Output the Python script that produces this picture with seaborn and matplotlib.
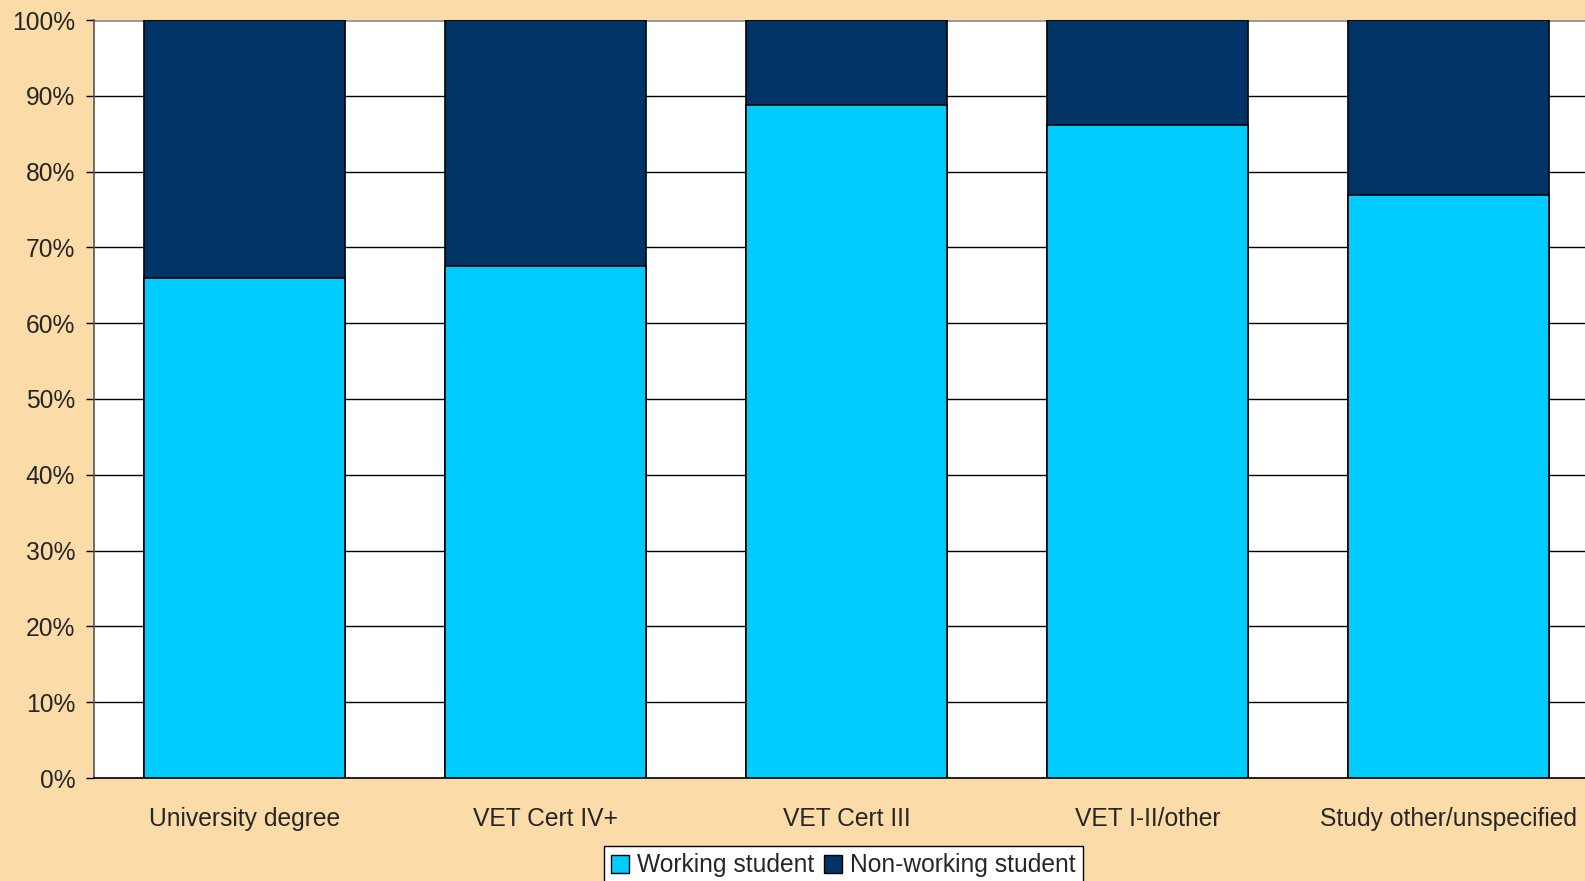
import pandas as pd
import seaborn as sns
import matplotlib
matplotlib.use('Agg')
import matplotlib.pyplot as plt
from matplotlib.patches import Patch
from matplotlib.ticker import FixedLocator, PercentFormatter

# Kategoriler ve yüzdeler
categories = ["University degree", "VET Cert IV+", "VET Cert III", "VET I-II/other", "Study other/unspecified"]
working = [65.9, 67.6, 88.8, 86.1, 76.9]
non_working = [100 - w for w in working]
series_names = ["Working student", "Non-working student"]

cyan = "#00CCFF"
navy = "#003366"
bg = "#FBDBA8"

df = pd.DataFrame({"kategori": categories, "working": working, "non_working": non_working})
df["toplam"] = df["working"] + df["non_working"]

sns.set_style("white")
plt.rcParams['font.family'] = ['Liberation Sans', 'DejaVu Sans']

fig = plt.figure(figsize=(15.85, 8.81), dpi=100, facecolor=bg)
ax = fig.add_axes([94 / 1585, 103 / 881, 1505 / 1585, 758 / 881])
ax.set_facecolor("white")

# Yığılmış çubuklar: önce toplam (lacivert), üstüne çalışan (camgöbeği)
sns.barplot(data=df, x="kategori", y="toplam", color=navy, width=0.67,
            edgecolor="black", linewidth=1.2, saturation=1, ax=ax, zorder=3)
sns.barplot(data=df, x="kategori", y="working", color=cyan, width=0.67,
            edgecolor="black", linewidth=1.2, saturation=1, ax=ax, zorder=3)

ax.set_xlim(-0.5, len(categories) - 0.5)
ax.set_ylim(0, 100)
ax.set_xlabel("")
ax.set_ylabel("")

ax.yaxis.set_major_locator(FixedLocator(range(0, 101, 10)))
ax.yaxis.set_major_formatter(PercentFormatter(decimals=0))
ax.grid(axis="y", color="black", linewidth=1, zorder=0)
ax.set_axisbelow(True)

ax.xaxis.set_minor_locator(FixedLocator([i - 0.5 for i in range(len(categories) + 1)]))
ax.tick_params(axis="x", which="major", length=0, pad=21, labelsize=17.7)
ax.tick_params(axis="x", which="minor", length=6, width=1, color="black", direction="out")
ax.tick_params(axis="y", length=6, width=1, color="black", direction="out", left=True,
               pad=7.5, labelsize=17.7)

for side in ["top", "right"]:
    ax.spines[side].set_visible(False)
ax.spines["left"].set_color("#555555")
ax.spines["bottom"].set_color("black")
ax.spines["left"].set_linewidth(1.2)
ax.spines["bottom"].set_linewidth(1.2)
ax.axhline(100, color="#999999", linewidth=2, zorder=1)

handles = [Patch(facecolor=cyan, edgecolor="black", linewidth=1),
           Patch(facecolor=navy, edgecolor="black", linewidth=1)]
leg = fig.legend(handles, series_names, loc="center", bbox_to_anchor=(0.532, 0.018),
                 ncol=2, fontsize=17.7, frameon=True, fancybox=False, framealpha=1,
                 edgecolor="black", facecolor="white", handlelength=0.75, handleheight=0.75,
                 handletextpad=0.3, columnspacing=0.4, borderpad=0.3, borderaxespad=0)
leg.get_frame().set_linewidth(1)

fig.savefig("out.png", dpi=100, facecolor=bg)
